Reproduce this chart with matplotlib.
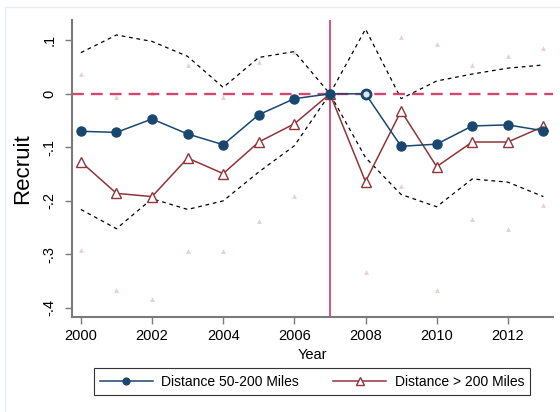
import matplotlib
matplotlib.use("Agg")
import matplotlib.pyplot as plt
from matplotlib.patches import Rectangle

plt.rcParams["font.family"] = ["Liberation Sans", "DejaVu Sans"]

years = list(range(2000, 2014))

# Distance 50-200 miles: point estimates and 95% CI (dashed black)
near = [-0.070, -0.072, -0.047, -0.075, -0.095, -0.039, -0.009,
        0.0, 0.0, -0.098, -0.094, -0.060, -0.058, -0.069]
near_hi = [0.077, 0.110, 0.098, 0.070, 0.012, 0.068, 0.079,
           0.0, 0.121, -0.009, 0.024, 0.037, 0.048, 0.054]
near_lo = [-0.216, -0.252, -0.196, -0.216, -0.200, -0.146, -0.097,
           0.0, -0.119, -0.188, -0.211, -0.159, -0.165, -0.192]
near_hollow = [8]  # index drawn as an open marker

# Distance > 200 miles: point estimates and CI bounds (faint markers)
far = [-0.127, -0.186, -0.192, -0.120, -0.149, -0.090, -0.056,
       0.0, -0.164, -0.032, -0.136, -0.090, -0.090, -0.061]
far_hi = [0.037, -0.006, 0.002, 0.054, -0.006, 0.059, 0.078,
          0.0, 0.005, 0.106, 0.094, 0.053, 0.070, 0.085]
far_lo = [-0.291, -0.366, -0.384, -0.293, -0.294, -0.237, -0.190,
          0.0, -0.333, -0.172, -0.367, -0.234, -0.252, -0.208]

yticks = [0.1, 0.0, -0.1, -0.2, -0.3, -0.4]
ytick_labels = [".1", "0", "-.1", "-.2", "-.3", "-.4"]
xticks = [2000, 2002, 2004, 2006, 2008, 2010, 2012]

NAVY = "#1a476f"
MAROON = "#90353b"
PINK = "#d6456c"
FAINT = "#ebcfd1"
GRAY = "#7a7a7a"

fig = plt.figure(figsize=(5.6, 4.12), dpi=100)
fig.patches.append(Rectangle((5 / 560, -0.05), 1.1, 1 - 7 / 412 + 0.05,
                             transform=fig.transFigure, fill=False,
                             edgecolor="#e3eef0", linewidth=1.0))
ax = fig.add_axes([72 / 560, 1 - 317 / 412, (553 - 72) / 560, (317 - 20) / 412])

# faint CI markers for the far series
ax.plot(years, far_hi, linestyle="none", marker="^", markersize=3.5,
        color=FAINT, markeredgewidth=0, zorder=1)
ax.plot(years, far_lo, linestyle="none", marker="^", markersize=3.5,
        color=FAINT, markeredgewidth=0, zorder=1)

# dashed CI for the near series
ax.plot(years, near_hi, color="black", linestyle=(0, (3, 3)), linewidth=0.9, zorder=2)
ax.plot(years, near_lo, color="black", linestyle=(0, (3, 3)), linewidth=0.9, zorder=2)

ax.axhline(0, color=PINK, linestyle=(0, (5, 3)), linewidth=1.7, zorder=2)
ax.axvline(2007, color=PINK, linewidth=1.3, zorder=2)

ax.plot(years, near, color=NAVY, linewidth=1.1, marker="o", markersize=6.5,
        markerfacecolor=NAVY, markeredgecolor=NAVY, zorder=4,
        label="Distance 50-200 Miles")
ax.plot(years, near, linestyle="none", marker="o", markersize=6.5,
        markevery=near_hollow, markerfacecolor="#dfe6ee",
        markeredgecolor=NAVY, markeredgewidth=2.0, zorder=5)
ax.plot(years, far, color=MAROON, linewidth=1.1, marker="^", markersize=7,
        markerfacecolor="white", markeredgecolor=MAROON, markeredgewidth=1.0,
        zorder=3, label="Distance > 200 Miles")

ax.set_xlim(1999.75, 2013.27)
ax.set_ylim(-0.417, 0.138)
ax.set_xticks(xticks)
ax.set_xticklabels([str(x) for x in xticks], fontsize=10.5)
ax.set_yticks(yticks)
ax.set_yticklabels(ytick_labels, fontsize=10.5, rotation=90, va="center")
ax.tick_params(axis="both", color=GRAY, length=5, width=1.0)
ax.tick_params(axis="y", pad=6)
ax.tick_params(axis="x", pad=4)

for side in ["top", "right"]:
    ax.spines[side].set_visible(False)
for side in ["left", "bottom"]:
    ax.spines[side].set_color(GRAY)
    ax.spines[side].set_linewidth(1.5)

ax.set_xlabel("Year", fontsize=10.5, labelpad=3)
ax.set_ylabel("Recruit", fontsize=16, labelpad=7)

leg = fig.legend(loc="center", bbox_to_anchor=(312 / 560, 1 - 381.5 / 412),
                 ncol=2, fontsize=10, frameon=True, fancybox=False,
                 edgecolor="black", handlelength=3.8, columnspacing=2.5,
                 handletextpad=0.6, borderpad=0.45, markerscale=0.75)
leg.get_frame().set_linewidth(0.8)

fig.savefig("out.png", dpi=100)
